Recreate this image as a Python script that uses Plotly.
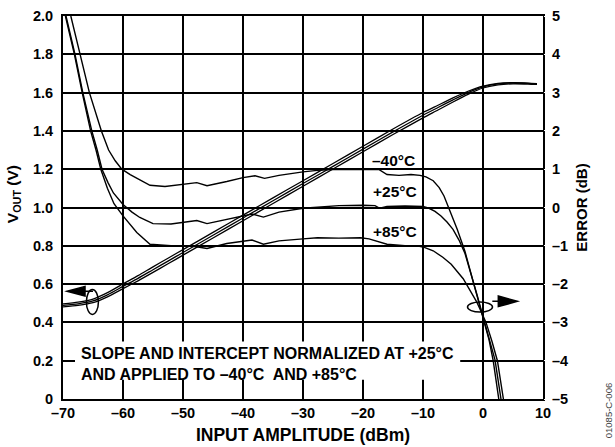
import plotly.graph_objects as go

# ---------------- data ----------------
x_ticks = [-70, -60, -50, -40, -30, -20, -10, 0, 10]
x_ticktext = ["\u201370", "\u201360", "\u201350", "\u201340", "\u201330", "\u201320", "\u201310", "0", "10"]
v_ticks = [0, 0.2, 0.4, 0.6, 0.8, 1.0, 1.2, 1.4, 1.6, 1.8, 2.0]
v_ticktext = ["0", "0.2", "0.4", "0.6", "0.8", "1.0", "1.2", "1.4", "1.6", "1.8", "2.0"]
e_ticks = [-5, -4, -3, -2, -1, 0, 1, 2, 3, 4, 5]
e_ticktext = ["\u20135", "\u20134", "\u20133", "\u20132", "\u20131", "0", "1", "2", "3", "4", "5"]

# VOUT (V) vs input amplitude (dBm)
x_v = [-70, -67.5, -65, -62.5, -60, -57.5, -55, -52.5, -50, -45, -40, -35, -30,
       -25, -20, -15, -10, -7.5, -5, -2.5, 0, 2.5, 5, 7.5, 9]
v_m40 = [0.497, 0.506, 0.522, 0.557, 0.601, 0.644, 0.690, 0.735, 0.780, 0.870, 0.960,
         1.050, 1.140, 1.230, 1.320, 1.410, 1.496, 1.534, 1.572, 1.607, 1.634, 1.648,
         1.652, 1.650, 1.647]
v_25 = [0.489, 0.497, 0.512, 0.545, 0.588, 0.630, 0.675, 0.720, 0.765, 0.855, 0.945,
        1.035, 1.125, 1.215, 1.305, 1.395, 1.482, 1.522, 1.562, 1.600, 1.630, 1.645,
        1.650, 1.648, 1.645]
v_85 = [0.481, 0.489, 0.503, 0.535, 0.576, 0.617, 0.661, 0.706, 0.751, 0.841, 0.931,
        1.021, 1.111, 1.201, 1.291, 1.381, 1.468, 1.509, 1.551, 1.591, 1.624, 1.640,
        1.646, 1.645, 1.643]

# ERROR (dB) vs input amplitude (dBm)
x_e_m40 = [-68.7, -67.2, -65.6, -63.6, -62.4, -61.3, -60.2, -58.8, -57.2, -55.5, -53.0,
           -50.0, -47.7, -46.0, -44.0, -42.7, -40.0, -38.0, -36.4, -34.0, -30.0, -27.6,
           -25.0, -22.0, -19.5, -17.3, -16.0, -14.0, -12.0, -10.5, -9.5, -8.3, -7.3,
           -6.5, -5.6, -4.3, -3.0, -2.0, -1.0, 0.0, 1.0, 1.7, 2.7, 3.0]
e_m40 = [5.0, 4.0, 3.0, 2.0, 1.5, 1.22, 1.0, 0.86, 0.73, 0.58, 0.55, 0.6, 0.65, 0.57,
         0.63, 0.68, 0.78, 0.83, 0.76, 0.84, 0.93, 0.97, 0.99, 1.0, 1.0, 0.99, 0.86,
         0.84, 0.86, 0.84, 0.8, 0.7, 0.52, 0.3, -0.05, -0.57, -1.15, -1.7, -2.3, -2.88,
         -3.45, -4.0, -5.0, -5.4]
x_e_25 = [-69.5, -68.0, -66.7, -65.2, -64.3, -63.5, -62.5, -61.6, -60.0, -58.5, -57.2,
          -55.0, -52.0, -50.0, -47.7, -46.0, -44.0, -42.7, -40.0, -38.5, -36.6, -34.0,
          -30.0, -27.0, -24.0, -20.0, -18.0, -17.2, -16.0, -13.0, -10.0, -9.0, -8.0,
          -7.0, -6.0, -5.0, -4.0, -3.0, -2.0, -1.0, 0.0, 1.0, 2.0, 3.0, 3.4]
e_25 = [5.0, 4.0, 3.0, 2.0, 1.5, 1.0, 0.65, 0.38, 0.08, -0.12, -0.26, -0.42, -0.43,
        -0.39, -0.34, -0.42, -0.35, -0.31, -0.23, -0.17, -0.25, -0.12, -0.02, 0.02,
        0.05, 0.06, 0.05, -0.02, 0.03, 0.04, 0.03, -0.02, -0.1, -0.22, -0.38, -0.57,
        -0.85, -1.2, -1.72, -2.28, -2.85, -3.4, -3.98, -5.0, -5.5]
x_e_85 = [-69.6, -68.1, -66.8, -65.4, -64.5, -63.7, -62.6, -61.5, -60.0, -58.8, -57.7,
          -55.5, -52.0, -50.0, -48.0, -46.0, -44.0, -42.7, -40.0, -38.5, -36.6, -34.0,
          -30.0, -27.6, -24.0, -20.4, -19.0, -17.5, -16.0, -13.0, -11.0, -10.0, -8.3,
          -6.7, -5.3, -3.3, -2.2, -1.1, -0.3, 0.5, 1.5, 2.4, 3.4, 3.8]
e_85 = [5.0, 4.0, 3.0, 2.0, 1.5, 1.0, 0.5, 0.1, -0.22, -0.45, -0.65, -0.96, -1.0, -1.0,
        -1.02, -1.07, -1.0, -0.94, -0.88, -0.85, -0.96, -0.87, -0.82, -0.79, -0.8,
        -0.79, -0.82, -0.9, -0.96, -1.0, -1.0, -1.03, -1.13, -1.3, -1.48, -1.86, -2.15,
        -2.45, -2.72, -3.0, -3.5, -4.0, -5.0, -5.4]

temp_labels = ["\u201340\u00b0C", "+25\u00b0C", "+85\u00b0C"]
temp_label_x = [-14.9, -14.7, -14.7]
temp_label_err = [1.22, 0.41, -0.63]

note_text = "SLOPE AND INTERCEPT NORMALIZED AT +25\u00b0C<br>AND APPLIED TO \u201340\u00b0C  AND +85\u00b0C"

# ---------------- figure ----------------
FONT = "Liberation Sans, Arial, sans-serif"
BLACK = "#000000"
fig = go.Figure()

for vv in (v_m40, v_25, v_85):
    fig.add_trace(go.Scatter(x=x_v, y=vv, mode="lines", yaxis="y",
                             line=dict(color=BLACK, width=1.3, shape="spline", smoothing=0.6),
                             showlegend=False, hoverinfo="skip"))

for xx, ee in ((x_e_m40, e_m40), (x_e_25, e_25), (x_e_85, e_85)):
    fig.add_trace(go.Scatter(x=xx, y=ee, mode="lines", yaxis="y2",
                             line=dict(color=BLACK, width=1.4),
                             showlegend=False, hoverinfo="skip"))

annotations = []
for t, tx, ty in zip(temp_labels, temp_label_x, temp_label_err):
    annotations.append(dict(x=tx, y=ty, xref="x", yref="y2", text=t, showarrow=False,
                            font=dict(family=FONT, size=15.5, color=BLACK, weight="bold")))

annotations.append(dict(x=-67.3, y=0.185, xref="x", yref="y", text=note_text, showarrow=False,
                        xanchor="left", yanchor="middle", align="left",
                        font=dict(family=FONT, size=16, color=BLACK, weight="bold")))

# left axis title (sits a little above the axis middle, as in the original)
annotations.append(dict(x=-0.104, y=0.535, xref="paper", yref="paper",
                        text="V<sub>OUT</sub> (V)", showarrow=False, textangle=-90,
                        xanchor="center", yanchor="middle",
                        font=dict(family=FONT, size=15.5, color=BLACK, weight="bold")))

annotations.append(dict(x=1.137, y=-0.03, xref="paper", yref="paper", text="01085-C-006",
                        showarrow=False, textangle=-90, xanchor="center", yanchor="middle",
                        font=dict(family=FONT, size=9.5, color="#444444")))

shapes = [
    # white panel behind the note
    dict(type="rect", xref="x", yref="y", x0=-68, x1=-3.8, y0=0.1, y1=0.3,
         fillcolor="white", line=dict(width=0), layer="above"),
    # left ellipse (marks VOUT curves)
    dict(type="circle", xref="x", yref="y", xsizemode="pixel", ysizemode="pixel",
         xanchor=-65.1, yanchor=0.507, x0=-6, x1=6, y0=-12.5, y1=12.5,
         line=dict(color=BLACK, width=1.5), layer="above"),
    # left arrow
    dict(type="path", xref="x", yref="y", xsizemode="pixel", ysizemode="pixel",
         xanchor=-69.33, yanchor=0.563,
         path="M0,0 L18,-4.8 L18,4.8 Z M18,0 L26,0",
         fillcolor=BLACK, line=dict(color=BLACK, width=1.5), layer="above"),
    # right ellipse (marks ERROR curves)
    dict(type="circle", xref="x", yref="y2", xsizemode="pixel", ysizemode="pixel",
         xanchor=-0.5, yanchor=-2.6, x0=-12.5, x1=12.5, y0=-5, y1=5,
         line=dict(color=BLACK, width=1.5), layer="above"),
    # right arrow
    dict(type="path", xref="x", yref="y2", xsizemode="pixel", ysizemode="pixel",
         xanchor=5.72, yanchor=-2.45,
         path="M0,0 L-19,-5.3 L-19,5.3 Z M-19,0 L-25,0",
         fillcolor=BLACK, line=dict(color=BLACK, width=1.5), layer="above"),
]

tickfont = dict(family=FONT, size=14.5, color=BLACK, weight="bold")

fig.update_layout(
    width=615, height=447,
    margin=dict(l=63, r=72, t=16, b=48),
    paper_bgcolor="white", plot_bgcolor="white",
    showlegend=False,
    font=dict(family=FONT, color=BLACK),
    xaxis=dict(range=[-70, 10], tickvals=x_ticks, ticktext=x_ticktext,
               showgrid=True, gridcolor=BLACK, gridwidth=1.5, zeroline=False,
               showline=True, linecolor=BLACK, linewidth=2, mirror=True,
               ticks="outside", ticklen=0, tickcolor="white", tickfont=tickfont,
               automargin=False,
               title=dict(text="INPUT AMPLITUDE (dBm)",
                          font=dict(family=FONT, size=17.5, color=BLACK, weight="bold"),
                          standoff=8)),
    yaxis=dict(range=[0, 2], tickvals=v_ticks, ticktext=v_ticktext,
               showgrid=True, gridcolor=BLACK, gridwidth=1.5, zeroline=False,
               showline=True, linecolor=BLACK, linewidth=2, mirror=True,
               ticks="outside", ticklen=5, tickcolor="white", tickfont=tickfont,
               automargin=False),
    yaxis2=dict(range=[-5, 5], tickvals=e_ticks, ticktext=e_ticktext,
                overlaying="y", side="right",
                showgrid=False, zeroline=False, showline=False,
                ticks="outside", ticklen=5, tickcolor="white", tickfont=tickfont,
                automargin=False,
                title=dict(text="ERROR (dB)",
                           font=dict(family=FONT, size=15, color=BLACK, weight="bold"),
                           standoff=9)),
    annotations=annotations,
    shapes=shapes,
)

fig.write_html("out.html", config={"displayModeBar": False},
               post_script="document.body.style.margin='0px';")
